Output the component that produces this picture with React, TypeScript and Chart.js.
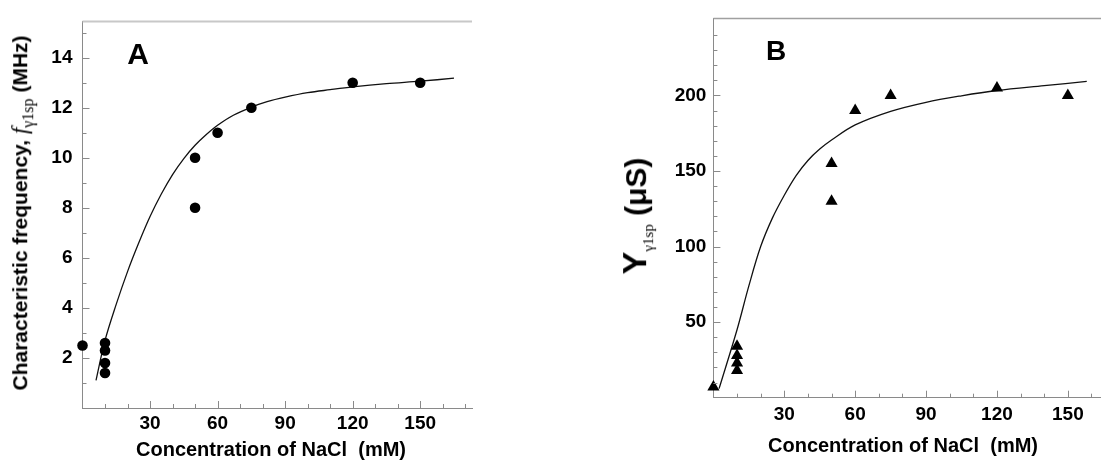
import React, { useEffect, useRef } from 'react';
import { Chart, registerables } from 'chart.js';

Chart.register(...registerables);

// Panel A: characteristic frequency (MHz) against NaCl concentration (mM)
const freqConc = [0, 10, 10, 10, 10, 50, 50, 60, 75, 120, 150];
const freqValues = [2.5, 2.6, 2.3, 1.8, 1.4, 10, 8, 11, 12, 13, 13];
const freqFitConc = [6, 10, 15, 20, 25, 30, 35, 40, 45, 50, 55, 60, 67, 75, 82, 90, 100, 110, 120, 135, 150, 165];
const freqFitValues = [1.1, 2.7, 4.15, 5.45, 6.6, 7.65, 8.55, 9.33, 9.97, 10.5, 10.93, 11.3, 11.7, 12.02, 12.24, 12.42, 12.6, 12.72, 12.83, 12.96, 13.06, 13.18];

// Panel B: admittance (µS) against NaCl concentration (mM)
const admConc = [0, 10, 10, 10, 10, 50, 50, 60, 75, 120, 150];
const admValues = [7, 34, 28, 23, 18, 155, 130, 190, 200, 205, 200];
const admFitConc = [2.4, 10, 15, 20, 25, 30, 35, 40, 45, 50, 60, 75, 90, 105, 120, 140, 158];
const admFitValues = [6, 45, 74, 100, 119, 134, 147, 157, 164.5, 170.5, 180.5, 189.5, 195.5, 199.8, 203.3, 206.5, 209.3];

// Axis tick labels and tick marks
const concTickLabels = [30, 60, 90, 120, 150];
const concMinorTicks = [10, 20, 40, 50, 70, 80, 100, 110, 130, 140, 160, 170];
const freqTickLabels = [2, 4, 6, 8, 10, 12, 14];
const freqMinorTicks = [1, 3, 5, 7, 9, 11, 13, 15];
const admTickLabels = [50, 100, 150, 200];
const admMinorTicks = [10, 20, 30, 40, 60, 70, 80, 90, 110, 120, 130, 140, 160, 170, 180, 190, 210, 220, 230, 240];

const SANS = '"Liberation Sans", Arial, Helvetica, sans-serif';
const SERIF = '"Liberation Serif", "Times New Roman", serif';
const AXIS_GRAY = '#8a8a8a';

// Inward tick marks and the top frame line
const frameTicks = {
  id: 'frameTicks',
  afterDraw(chart: any, _args: any, opts: any) {
    const { ctx, chartArea: a } = chart;
    const x = chart.scales.x;
    const y = chart.scales.y;
    ctx.save();
    ctx.strokeStyle = opts.tickColor;
    ctx.lineWidth = 1;
    ctx.beginPath();
    const vx = (vals: number[], len: number) => {
      for (const v of vals) {
        if (v > x.max) continue;
        const px = Math.round(x.getPixelForValue(v)) + 0.5;
        ctx.moveTo(px, a.bottom);
        ctx.lineTo(px, a.bottom - len);
      }
    };
    const vy = (vals: number[], len: number) => {
      for (const v of vals) {
        if (v > y.max) continue;
        const py = Math.round(y.getPixelForValue(v)) + 0.5;
        ctx.moveTo(a.left, py);
        ctx.lineTo(a.left + len, py);
      }
    };
    vx(opts.xMinor, opts.minorLen);
    vx(opts.xMajor, opts.majorLen);
    vy(opts.yMinor, opts.minorLen);
    vy(opts.yMajor, opts.majorLen);
    ctx.stroke();
    ctx.strokeStyle = opts.frameColor;
    ctx.lineWidth = opts.frameWidth;
    ctx.beginPath();
    ctx.moveTo(a.left, a.top);
    ctx.lineTo(a.right, a.top);
    ctx.stroke();
    ctx.restore();
  },
};

type PanelSpec = {
  width: number;
  height: number;
  xMax: number;
  yMax: number;
  yAxisWidth: number;
  xAxisHeight: number;
  padTop: number;
  padRight: number;
  xTickPad: number;
  yTickPad: number;
  yLabels: number[];
  yMinor: number[];
  pointsX: number[];
  pointsY: number[];
  fitX: number[];
  fitY: number[];
  pointStyle: string;
  pointRadius: number;
  frameColor: string;
  frameWidth: number;
};

function Panel({ spec }: { spec: PanelSpec }) {
  const ref = useRef<HTMLCanvasElement | null>(null);
  useEffect(() => {
    if (!ref.current) return;
    const tickFont = { family: SANS, size: 19, weight: 'bold' as const };
    const chart = new Chart(ref.current, {
      type: 'scatter',
      data: {
        datasets: [
          {
            data: spec.pointsX.map((v, i) => ({ x: v, y: spec.pointsY[i] })),
            pointStyle: spec.pointStyle as any,
            pointRadius: spec.pointRadius,
            backgroundColor: '#000',
            borderColor: '#000',
            borderWidth: 0,
            clip: false as any,
          },
          {
            data: spec.fitX.map((v, i) => ({ x: v, y: spec.fitY[i] })),
            showLine: true,
            pointRadius: 0,
            borderColor: '#111',
            borderWidth: 1.3,
            tension: 0.35,
          } as any,
        ],
      },
      options: {
        animation: false,
        responsive: false,
        devicePixelRatio: 1,
        events: [],
        layout: { padding: { top: spec.padTop, right: spec.padRight, left: 0, bottom: 0 } },
        plugins: {
          legend: { display: false },
          tooltip: { enabled: false },
          frameTicks: {
            tickColor: AXIS_GRAY,
            frameColor: spec.frameColor,
            frameWidth: spec.frameWidth,
            xMajor: concTickLabels,
            xMinor: concMinorTicks,
            yMajor: spec.yLabels,
            yMinor: spec.yMinor,
            majorLen: 7,
            minorLen: 4,
          },
        } as any,
        scales: {
          x: {
            type: 'linear',
            min: 0,
            max: spec.xMax,
            afterBuildTicks: (s: any) => {
              s.ticks = concTickLabels.map((v) => ({ value: v }));
            },
            afterFit: (s: any) => {
              s.height = spec.xAxisHeight;
            },
            grid: { display: false, drawTicks: false },
            border: { display: true, color: AXIS_GRAY, width: 1 },
            ticks: { color: '#000', font: tickFont, padding: spec.xTickPad, maxRotation: 0, autoSkip: false },
          },
          y: {
            type: 'linear',
            min: 0,
            max: spec.yMax,
            afterBuildTicks: (s: any) => {
              s.ticks = spec.yLabels.map((v) => ({ value: v }));
            },
            afterFit: (s: any) => {
              s.width = spec.yAxisWidth;
            },
            grid: { display: false, drawTicks: false },
            border: { display: true, color: AXIS_GRAY, width: 1 },
            ticks: { color: '#000', font: tickFont, padding: spec.yTickPad, autoSkip: false },
          },
        },
      },
      plugins: [frameTicks],
    });
    return () => chart.destroy();
  }, [spec]);
  return <canvas ref={ref} width={spec.width} height={spec.height} style={{ width: spec.width, height: spec.height, display: 'block' }} />;
}

const specA: PanelSpec = {
  width: 560,
  height: 461,
  xMax: 173,
  yMax: 15.45,
  yAxisWidth: 82.5,
  xAxisHeight: 53,
  padTop: 11,
  padRight: 88,
  xTickPad: 4,
  yTickPad: 10,
  yLabels: freqTickLabels,
  yMinor: freqMinorTicks,
  pointsX: freqConc,
  pointsY: freqValues,
  fitX: freqFitConc,
  fitY: freqFitValues,
  pointStyle: 'circle',
  pointRadius: 5.3,
  frameColor: '#c8c8c8',
  frameWidth: 2,
};

const specB: PanelSpec = {
  width: 500,
  height: 461,
  xMax: 165,
  yMax: 251,
  yAxisWidth: 93.4,
  xAxisHeight: 63.3,
  padTop: 16,
  padRight: 16.7,
  xTickPad: 6,
  yTickPad: 7,
  yLabels: admTickLabels,
  yMinor: admMinorTicks,
  pointsX: admConc,
  pointsY: admValues,
  fitX: admFitConc,
  fitY: admFitValues,
  pointStyle: 'triangle',
  pointRadius: 7,
  frameColor: '#a0a0a0',
  frameWidth: 1.5,
};

const abs = (left: number, top: number): React.CSSProperties => ({
  position: 'absolute',
  left,
  top,
  transform: 'translate(-50%, -50%)',
  whiteSpace: 'pre',
  lineHeight: 1,
  color: '#000',
});

const rot = (left: number, top: number): React.CSSProperties => ({
  ...abs(left, top),
  transform: 'translate(-50%, -50%) rotate(-90deg)',
});

export default function App() {
  return (
    <div style={{ position: 'absolute', left: 0, top: 0, width: 1101, height: 461, overflow: 'hidden', background: '#fff' }}>
      <div style={{ position: 'absolute', left: 0, top: 0 }}>
        <Panel spec={specA} />
      </div>
      <div style={{ position: 'absolute', left: 620, top: 0 }}>
        <Panel spec={specB} />
      </div>

      <div style={{ ...abs(138, 54), font: `bold 30px ${SANS}` }}>A</div>
      <div style={{ ...abs(776, 51), font: `bold 28px ${SANS}` }}>B</div>

      <div style={{ ...abs(271, 449), font: `bold 20px ${SANS}` }}>Concentration of NaCl  (mM)</div>
      <div style={{ ...abs(903, 445), font: `bold 20px ${SANS}` }}>Concentration of NaCl  (mM)</div>

      <div style={{ ...rot(22, 213), font: `bold 21px ${SANS}` }}>
        Characteristic frequency,{' '}
        <span style={{ font: `italic 23px ${SERIF}` }}>f</span>
        <span style={{ font: `16px ${SERIF}`, verticalAlign: '-0.35em' }}>γ1sp</span>
        {' (MHz)'}
      </div>

      <div style={{ ...rot(636, 216), font: `bold 34px ${SANS}` }}>
        Y<span style={{ font: `15px ${SERIF}`, verticalAlign: '-0.45em' }}>γ1sp</span>
        <span style={{ font: `bold 30px ${SANS}` }}>{' (μS)'}</span>
      </div>
    </div>
  );
}
